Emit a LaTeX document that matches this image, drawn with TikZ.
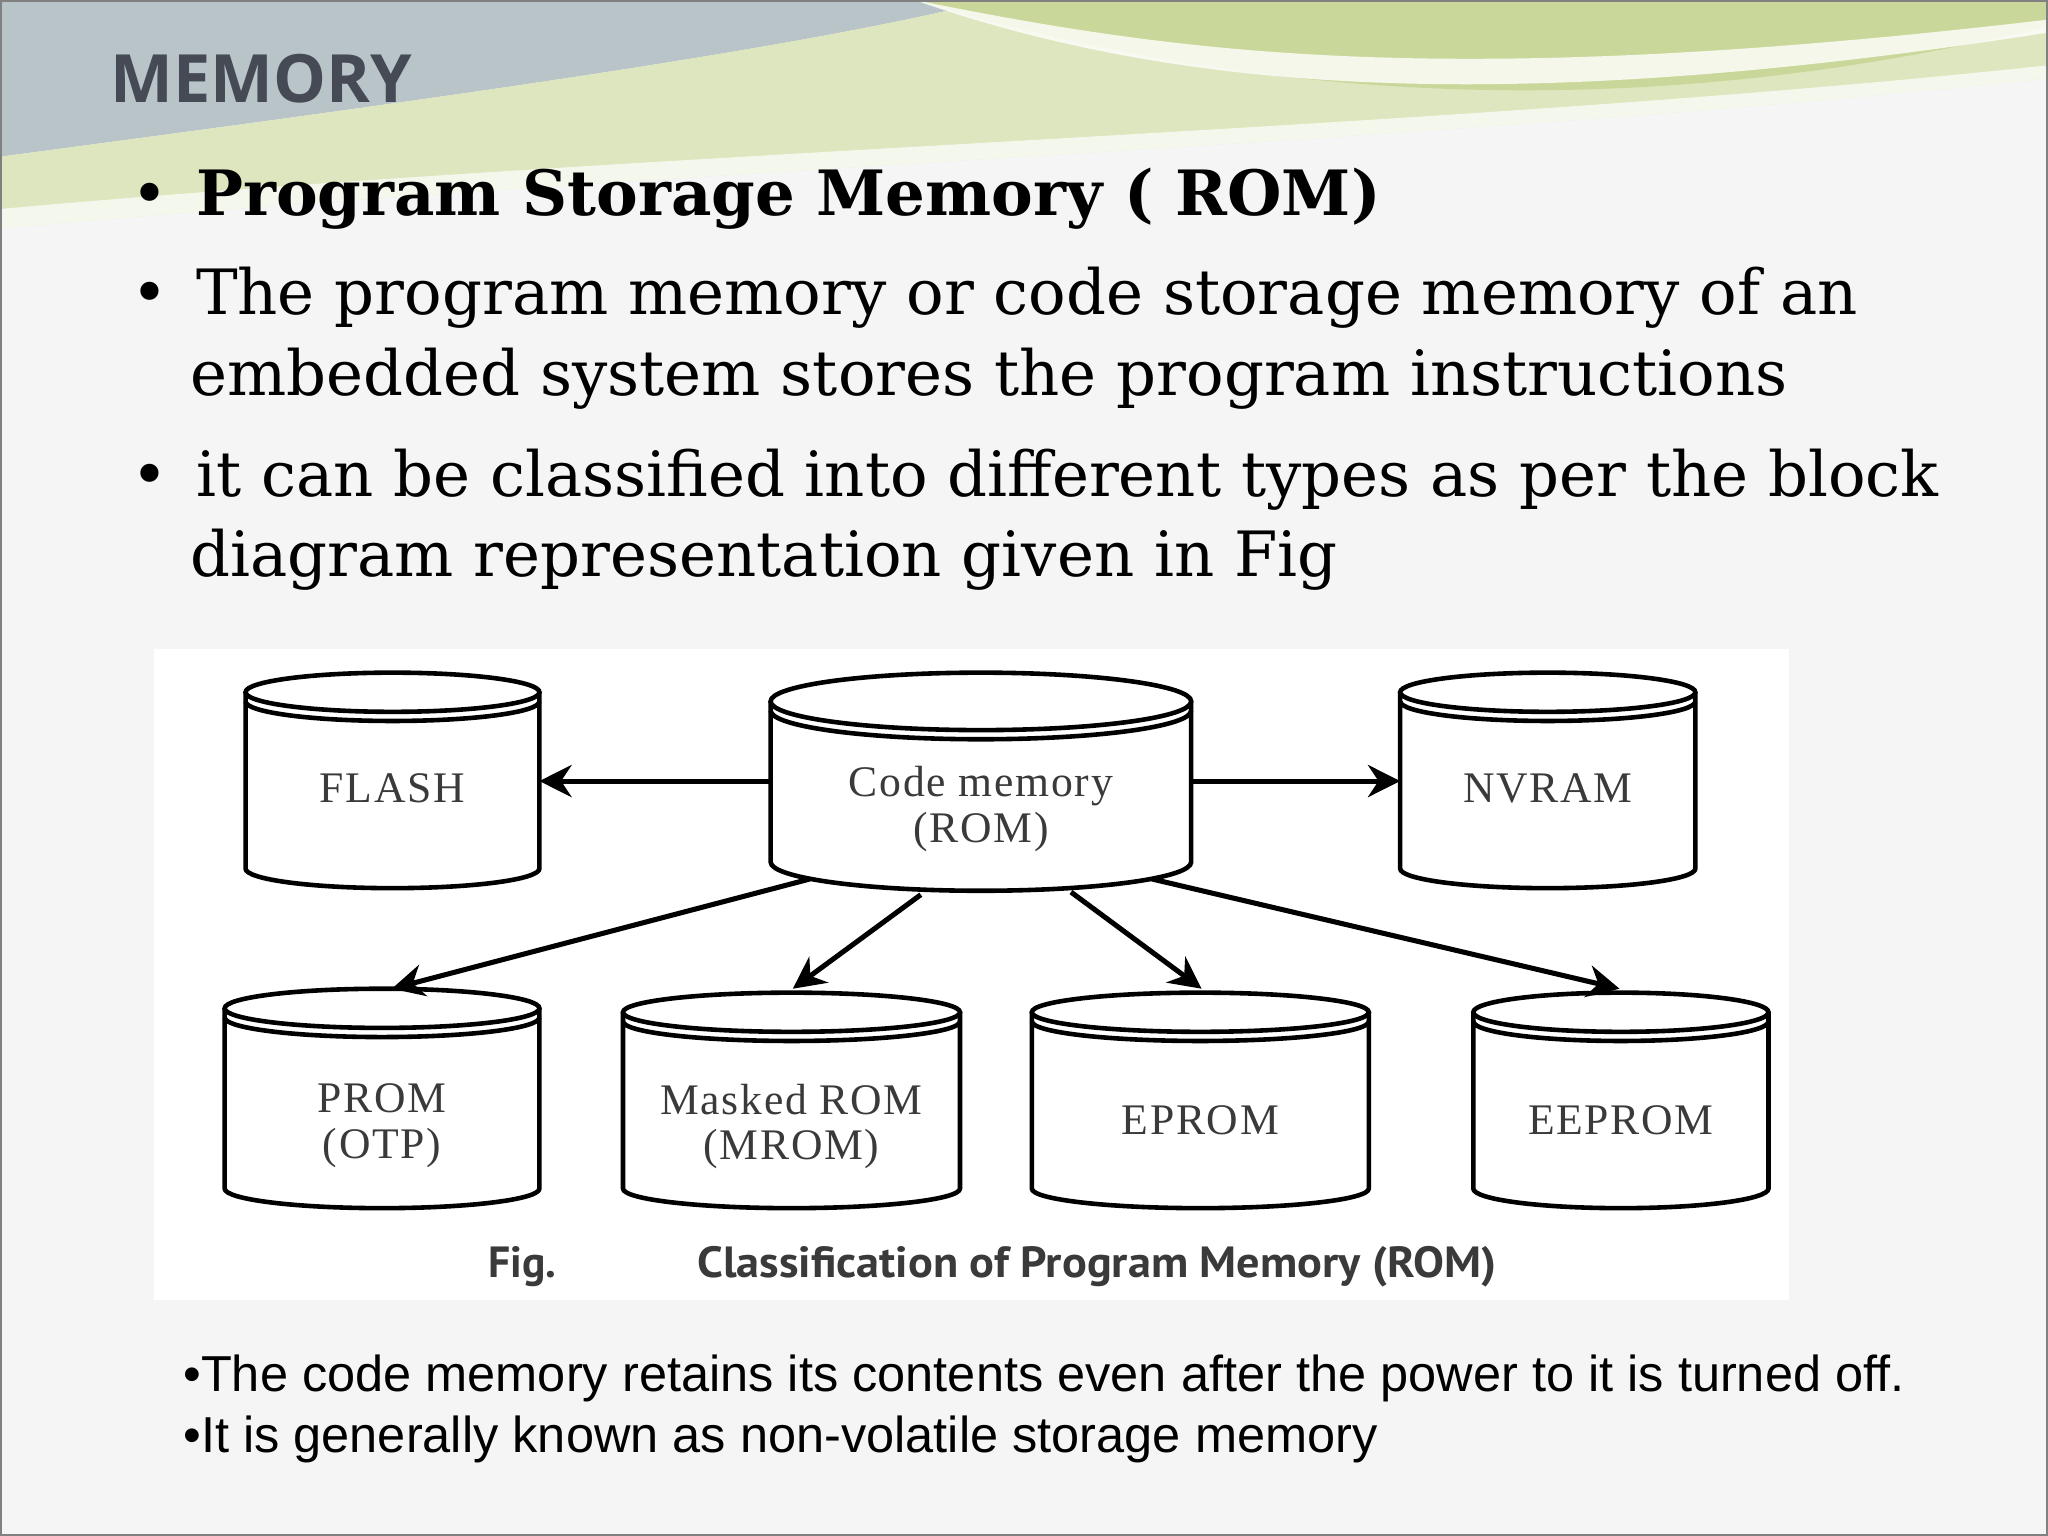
\documentclass[tikz,border=0pt]{standalone}
\usepackage{fontspec}
\setmainfont{DejaVu Serif}
\newfontfamily\titlefont{Open Sans}
\newfontfamily\arialf{Liberation Sans}
\newfontfamily\timesf[LetterSpace=4]{Liberation Serif}
\newfontfamily\capf{PT Sans}
\usetikzlibrary{arrows.meta}
\definecolor{bg}{HTML}{F4F5F4}
\definecolor{headgray}{HTML}{B9C4C8}
\definecolor{headgreen}{HTML}{C9D89A}
\definecolor{lightgreen}{HTML}{DDE6BE}
\definecolor{titlegray}{HTML}{454A55}
\definecolor{boxgray}{HTML}{3A3A3A}
\tikzset{
 cylline/.style={draw=black,line width=1pt},
 cyltext/.style={font=\timesf\fontsize{9.5}{10}\selectfont,text=boxgray,align=center},
 arr/.style={-{Stealth[length=7pt,width=7pt]},line width=1.1pt},
 bul/.style={anchor=north west,align=left,font=\fontsize{13.6}{17.6}\selectfont},
}
\newcommand\mycyl[8]{%
 \draw[cylline,fill=white] ({#2-#3},#4)--({#2-#3},#5) arc[start angle=180,end angle=0,x radius=#3,y radius=#6]--({#2+#3},#4);
 \draw[cylline,fill=white] (#2,#4) ellipse[x radius=#3,y radius=#6];
 \draw[cylline] ({#2-#3},{#4+7}) arc[start angle=180,end angle=0,x radius=#3,y radius=#6];
 \node[cyltext] (#1) at (#2,{(#4+#5)/2+#8}) {#7};
}
\begin{document}
\begin{tikzpicture}[x=0.01cm,y=-0.01cm]
\useasboundingbox (0,0) rectangle (1568,1176);
\fill[bg] (0,0) rectangle (1568,1176);
% header waves
\fill[headgray] (0,0)--(760,0) .. controls (600,40) and (300,80) .. (0,120)--cycle;
\fill[lightgreen] (0,120) .. controls (300,80) and (600,40) .. (760,0)--(1568,0)--(1568,60) .. controls (1300,110) and (800,120) .. (0,175)--cycle;
\fill[headgreen] (700,0) .. controls (900,60) and (1200,110) .. (1568,20)--(1568,0)--cycle;
\fill[white,opacity=0.8] (700,0) .. controls (900,40) and (1100,70) .. (1568,15)--(1568,25) .. controls (1150,90) and (900,70) .. (700,0)--cycle;
\fill[bg] (0,175) .. controls (500,130) and (1100,110) .. (1568,60)--(1568,1176)--(0,1176)--cycle;
\fill[white,opacity=0.7] (0,160) .. controls (500,115) and (1100,100) .. (1568,50)--(1568,60) .. controls (1100,110) and (500,130) .. (0,175)--cycle;
\draw[gray,line width=0.8pt] (0,0) rectangle (1568,1176);
% title
\node[anchor=west,font=\titlefont\bfseries\fontsize{14.5}{17}\selectfont,text=titlegray] (title) at (72,60) {MEMORY};
% bullets
\node[bul] (b1) at (88,116) {\textbullet\hspace{0.45em}\textbf{Program Storage Memory ( ROM)}};
\node[bul] (b2) at (88,192) {\textbullet\hspace{0.45em}The program memory or code storage memory of an\\\hspace*{0.95em}embedded system stores the program instructions};
\node[bul] (b3) at (88,331) {\textbullet\hspace{0.45em}it can be classified into different types as per the block\\\hspace*{0.95em}diagram representation given in Fig};
% figure
\fill[white] (118,497) rectangle (1370,995);
\mycyl{flash}{300.5}{112.5}{530}{665}{15}{FLASH}{6}
\mycyl{code}{751}{161}{537}{660}{22}{Code memory\\(ROM)}{21}
\mycyl{nvram}{1185}{113}{530}{665}{15}{NVRAM}{6}
\mycyl{prom}{292.5}{120.5}{772}{910}{15}{PROM\\(OTP)}{21}
\mycyl{mrom}{606}{129}{775}{910}{15}{Masked ROM\\(MROM)}{20}
\mycyl{eprom}{919}{129}{775}{910}{15}{EPROM}{15}
\mycyl{eeprom}{1241}{113}{775}{910}{15}{EEPROM}{15}
\coordinate (cl) at (590,598); \coordinate (cr) at (912,598);
\coordinate (fr) at (413,598); \coordinate (nl) at (1072,598);
\coordinate (c1) at (620,673); \coordinate (c2) at (705,685);
\coordinate (c3) at (820,683); \coordinate (c4) at (882,673);
\coordinate (p1) at (300,757); \coordinate (p2) at (607,757);
\coordinate (p3) at (920,757); \coordinate (p4) at (1240,757);
\draw[arr] (cl)--(fr);
\draw[arr] (cr)--(nl);
\draw[arr] (c1)--(p1);
\draw[arr] (c2)--(p2);
\draw[arr] (c3)--(p3);
\draw[arr] (c4)--(p4);
\node[font=\capf\bfseries\fontsize{9.5}{11}\selectfont,text=boxgray] (fig) at (400,970) {Fig.};
\node[font=\capf\bfseries\fontsize{9.5}{11}\selectfont,text=boxgray,xscale=1.06] (cap) at (840,970) {Classification of Program Memory (ROM)};
% bottom text
\node[anchor=west,font=\arialf\fontsize{11}{13}\selectfont] (t1) at (128,1055) {\textbullet The code memory retains its contents even after the power to it is turned off.};
\node[anchor=west,font=\arialf\fontsize{11}{13}\selectfont] (t2) at (128,1102) {\textbullet It is generally known as non-volatile storage memory};
\end{tikzpicture}
\end{document}
